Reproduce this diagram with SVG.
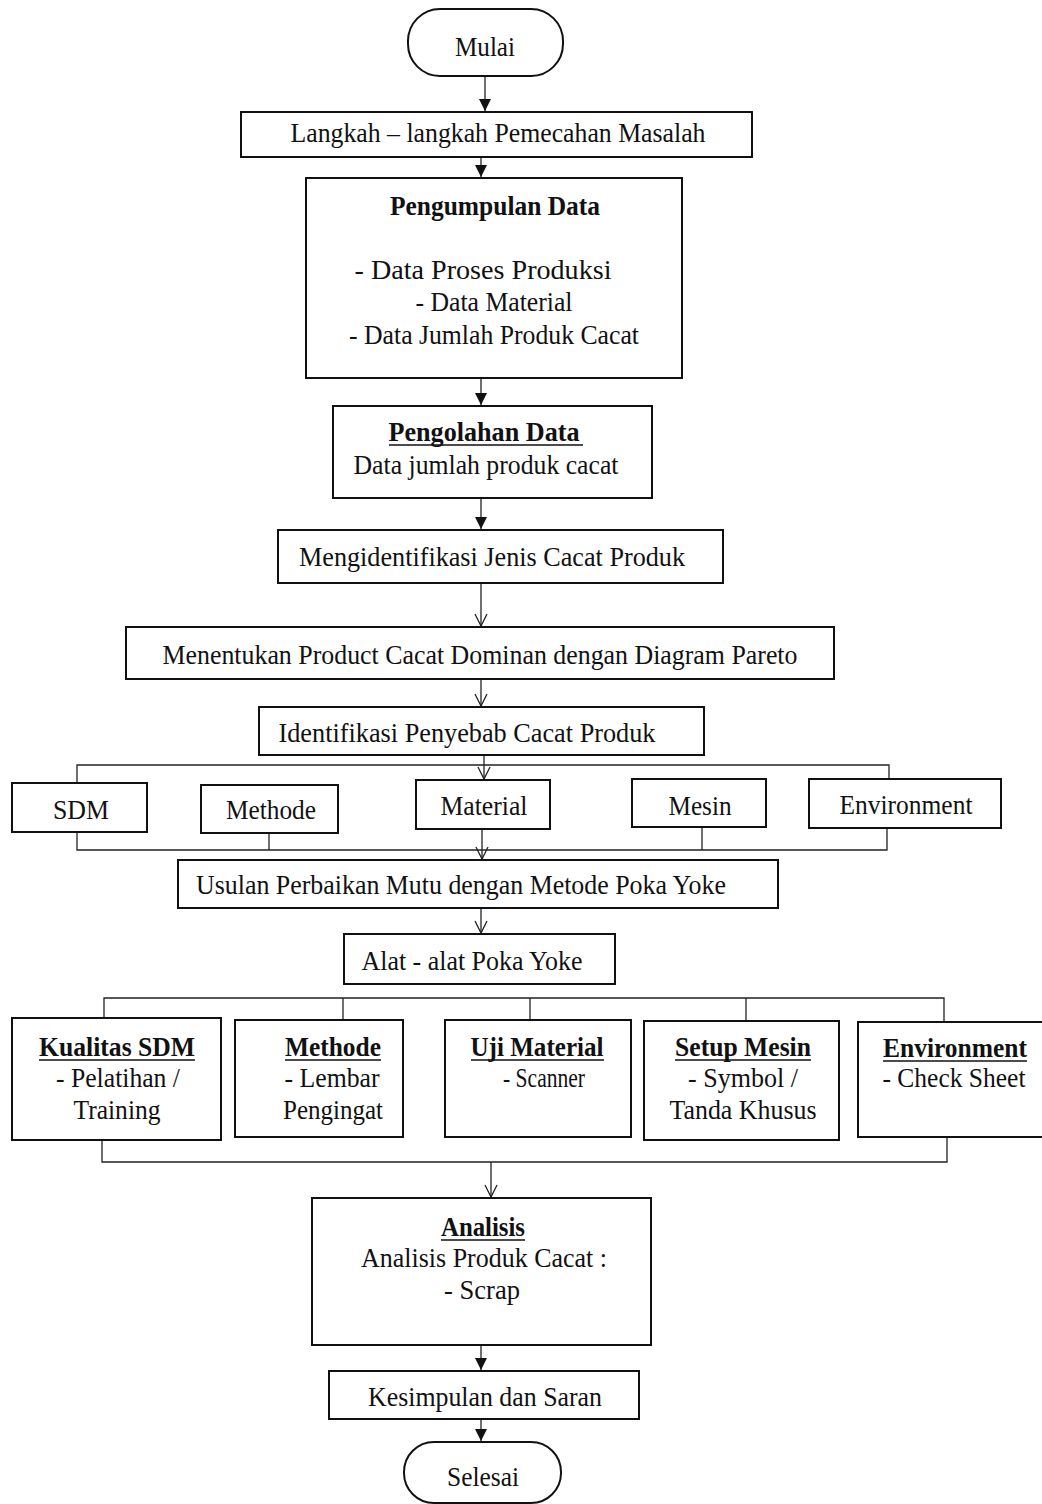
<svg xmlns="http://www.w3.org/2000/svg" width="1042" height="1504" viewBox="0 0 1042 1504">
<style>
.box{fill:#fff;stroke:#111;stroke-width:2}
.t{font-family:"Liberation Serif","Times New Roman",serif;font-size:27px;fill:#111;text-anchor:middle}
.b{font-weight:bold}
.ul{stroke:#111;stroke-width:1.5}
.c{fill:none;stroke:#222;stroke-width:1.3}
</style>
<defs>
<marker id="fa" markerUnits="userSpaceOnUse" markerWidth="14" markerHeight="14" viewBox="0 0 14 14" refX="13" refY="7" orient="auto">
<path d="M1,1 L13,7 L1,13 Z" fill="#111"/>
</marker>
<marker id="oa" markerUnits="userSpaceOnUse" markerWidth="16" markerHeight="16" viewBox="0 0 16 16" refX="14" refY="8" orient="auto">
<path d="M2,2 L14,8 L2,14" fill="none" stroke="#222" stroke-width="1.3"/>
</marker>
</defs>
<rect width="1042" height="1504" fill="#fff"/>

<g id="connectors">
<line class="c" x1="485" y1="76" x2="485" y2="111" marker-end="url(#fa)"/>
<line class="c" x1="481" y1="157" x2="481" y2="177" marker-end="url(#fa)"/>
<line class="c" x1="481" y1="378" x2="481" y2="405" marker-end="url(#fa)"/>
<line class="c" x1="481" y1="498" x2="481" y2="529" marker-end="url(#fa)"/>
<line class="c" x1="481" y1="583" x2="481" y2="626" marker-end="url(#oa)"/>
<line class="c" x1="481" y1="679" x2="481" y2="706" marker-end="url(#oa)"/>
<line class="c" x1="484" y1="755" x2="484" y2="779" marker-end="url(#oa)"/>
<path class="c" d="M77,783 V765 H889 V779"/>
<path class="c" d="M77,832 V850 H887 V828"/>
<path class="c" d="M269,833 V850"/>
<path class="c" d="M702,827 V850"/>
<line class="c" x1="482" y1="829" x2="482" y2="859" marker-end="url(#oa)"/>
<line class="c" x1="481" y1="908" x2="481" y2="933" marker-end="url(#oa)"/>
<path class="c" d="M104,1018 V998 H944 V1022"/>
<path class="c" d="M343,998 V1020"/>
<path class="c" d="M530,998 V1020"/>
<path class="c" d="M746,998 V1021"/>
<path class="c" d="M102,1140 V1162 H947 V1137"/>
<line class="c" x1="491" y1="1162" x2="491" y2="1197" marker-end="url(#oa)"/>
<line class="c" x1="481" y1="1345" x2="481" y2="1370" marker-end="url(#fa)"/>
<line class="c" x1="481" y1="1419" x2="481" y2="1441" marker-end="url(#fa)"/>
</g>

<g id="mulai">
<rect class="box" x="408" y="9" width="155" height="67" rx="32"/>
<text class="t" x="485" y="56" textLength="60" lengthAdjust="spacingAndGlyphs">Mulai</text>
</g>
<g id="langkah">
<rect class="box" x="241" y="112" width="511" height="45"/>
<text class="t" x="498" y="142" textLength="415" lengthAdjust="spacingAndGlyphs">Langkah – langkah Pemecahan Masalah</text>
</g>
<g id="pengumpulan">
<rect class="box" x="306" y="178" width="376" height="200"/>
<text class="t b" x="495" y="215" textLength="210" lengthAdjust="spacingAndGlyphs">Pengumpulan Data</text>
<text class="t" x="483" y="279" textLength="257" lengthAdjust="spacingAndGlyphs">- Data Proses Produksi</text>
<text class="t" x="494" y="311" textLength="157" lengthAdjust="spacingAndGlyphs">- Data Material</text>
<text class="t" x="494" y="344" textLength="290" lengthAdjust="spacingAndGlyphs">- Data Jumlah Produk Cacat</text>
</g>
<g id="pengolahan">
<rect class="box" x="333" y="406" width="319" height="92"/>
<text class="t b" x="484" y="441" textLength="191" lengthAdjust="spacingAndGlyphs">Pengolahan Data</text>
<line class="ul" x1="389" y1="445" x2="583" y2="445"/>
<text class="t" x="486" y="474" textLength="265" lengthAdjust="spacingAndGlyphs">Data jumlah produk cacat</text>
</g>
<g id="mengidentifikasi">
<rect class="box" x="278" y="530" width="445" height="53"/>
<text class="t" x="492" y="566" textLength="386" lengthAdjust="spacingAndGlyphs">Mengidentifikasi Jenis Cacat  Produk</text>
</g>
<g id="menentukan">
<rect class="box" x="126" y="627" width="708" height="52"/>
<text class="t" x="480" y="664" textLength="635" lengthAdjust="spacingAndGlyphs">Menentukan Product Cacat Dominan dengan Diagram Pareto</text>
</g>
<g id="identifikasi">
<rect class="box" x="259" y="707" width="445" height="48"/>
<text class="t" x="467" y="742" textLength="377" lengthAdjust="spacingAndGlyphs">Identifikasi Penyebab Cacat  Produk</text>
</g>
<g id="sdm">
<rect class="box" x="12" y="783" width="135" height="49"/>
<text class="t" x="81" y="819" textLength="56" lengthAdjust="spacingAndGlyphs">SDM</text>
</g>
<g id="methode">
<rect class="box" x="201" y="785" width="137" height="48"/>
<text class="t" x="271" y="819" textLength="90" lengthAdjust="spacingAndGlyphs">Methode</text>
</g>
<g id="material">
<rect class="box" x="416" y="780" width="134" height="49"/>
<text class="t" x="484" y="815" textLength="87" lengthAdjust="spacingAndGlyphs">Material</text>
</g>
<g id="mesin">
<rect class="box" x="632" y="779" width="134" height="48"/>
<text class="t" x="700" y="815" textLength="63" lengthAdjust="spacingAndGlyphs">Mesin</text>
</g>
<g id="environment">
<rect class="box" x="809" y="779" width="192" height="49"/>
<text class="t" x="906" y="814" textLength="133" lengthAdjust="spacingAndGlyphs">Environment</text>
</g>
<g id="usulan">
<rect class="box" x="178" y="860" width="600" height="48"/>
<text class="t" x="461" y="894" textLength="530" lengthAdjust="spacingAndGlyphs">Usulan Perbaikan Mutu dengan Metode Poka Yoke</text>
</g>
<g id="alat">
<rect class="box" x="344" y="934" width="271" height="50"/>
<text class="t" x="472" y="970" textLength="221" lengthAdjust="spacingAndGlyphs">Alat - alat Poka Yoke</text>
</g>
<g id="kualitas-sdm">
<rect class="box" x="12" y="1018" width="209" height="122"/>
<text class="t b" x="117" y="1056" textLength="156" lengthAdjust="spacingAndGlyphs">Kualitas SDM</text>
<line class="ul" x1="39" y1="1060" x2="195" y2="1060"/>
<text class="t" x="118" y="1087" textLength="124" lengthAdjust="spacingAndGlyphs">- Pelatihan /</text>
<text class="t" x="117" y="1119" textLength="87" lengthAdjust="spacingAndGlyphs">Training</text>
</g>
<g id="methode-tool">
<rect class="box" x="235" y="1020" width="168" height="117"/>
<text class="t b" x="333" y="1056" textLength="96" lengthAdjust="spacingAndGlyphs">Methode</text>
<line class="ul" x1="285" y1="1060" x2="381" y2="1060"/>
<text class="t" x="332" y="1087" textLength="95" lengthAdjust="spacingAndGlyphs">- Lembar</text>
<text class="t" x="333" y="1119" textLength="100" lengthAdjust="spacingAndGlyphs">Pengingat</text>
</g>
<g id="uji-material">
<rect class="box" x="445" y="1020" width="186" height="117"/>
<text class="t b" x="537" y="1056" textLength="133" lengthAdjust="spacingAndGlyphs">Uji Material</text>
<line class="ul" x1="471" y1="1060" x2="604" y2="1060"/>
<text class="t" x="544" y="1087" textLength="82" lengthAdjust="spacingAndGlyphs">- Scanner</text>
</g>
<g id="setup-mesin">
<rect class="box" x="644" y="1021" width="195" height="119"/>
<text class="t b" x="743" y="1056" textLength="136" lengthAdjust="spacingAndGlyphs">Setup Mesin</text>
<line class="ul" x1="675" y1="1060" x2="811" y2="1060"/>
<text class="t" x="743" y="1087" textLength="110" lengthAdjust="spacingAndGlyphs">- Symbol /</text>
<text class="t" x="743" y="1119" textLength="147" lengthAdjust="spacingAndGlyphs">Tanda Khusus</text>
</g>
<g id="environment-tool">
<rect class="box" x="858" y="1022" width="190" height="115"/>
<text class="t b" x="955" y="1057" textLength="144" lengthAdjust="spacingAndGlyphs">Environment</text>
<line class="ul" x1="883" y1="1061" x2="1027" y2="1061"/>
<text class="t" x="954" y="1087" textLength="143" lengthAdjust="spacingAndGlyphs">- Check Sheet</text>
</g>
<g id="analisis">
<rect class="box" x="312" y="1198" width="339" height="147"/>
<text class="t b" x="483" y="1236" textLength="84" lengthAdjust="spacingAndGlyphs">Analisis</text>
<line class="ul" x1="441" y1="1240" x2="525" y2="1240"/>
<text class="t" x="484" y="1267" textLength="246" lengthAdjust="spacingAndGlyphs">Analisis Produk Cacat :</text>
<text class="t" x="482" y="1299" textLength="76" lengthAdjust="spacingAndGlyphs">- Scrap</text>
</g>
<g id="kesimpulan">
<rect class="box" x="329" y="1371" width="310" height="48"/>
<text class="t" x="485" y="1406" textLength="234" lengthAdjust="spacingAndGlyphs">Kesimpulan dan Saran</text>
</g>
<g id="selesai">
<rect class="box" x="404" y="1442" width="157" height="61" rx="30"/>
<text class="t" x="483" y="1486" textLength="72" lengthAdjust="spacingAndGlyphs">Selesai</text>
</g>
</svg>
